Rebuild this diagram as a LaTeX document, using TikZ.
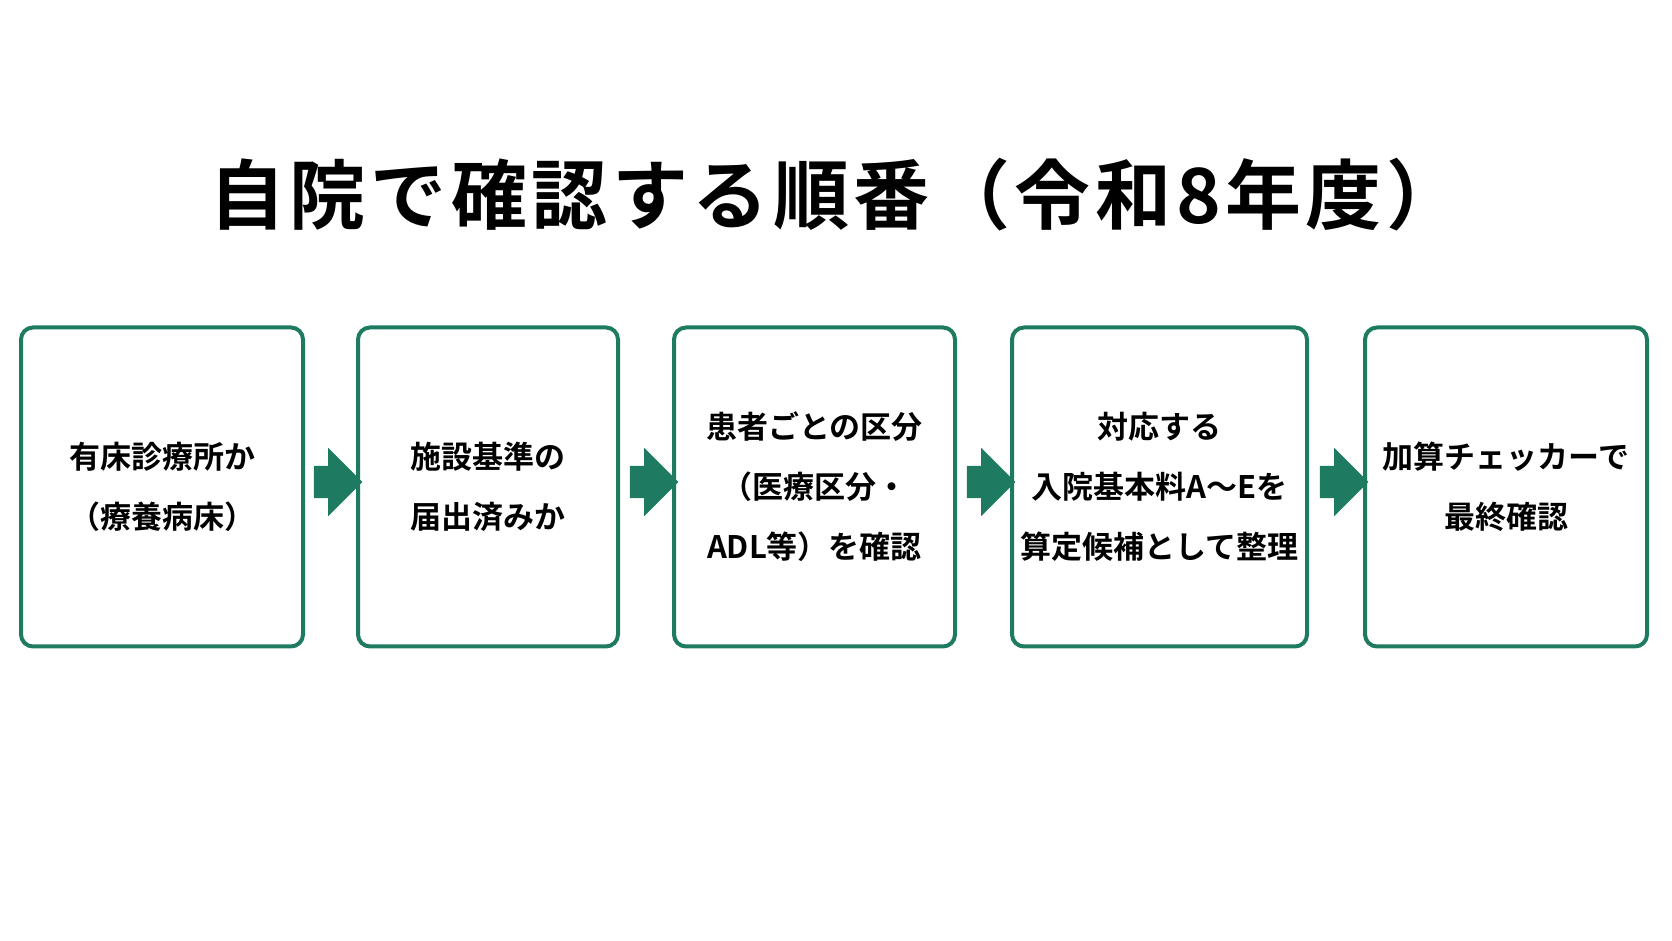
\documentclass[tikz,border=0pt]{standalone}
\usepackage{fontspec}
\setmainfont{Noto Sans CJK JP}[BoldFont={* Bold}]
\newfontfamily\titlefont{Noto Sans CJK JP Bold}[LetterSpace=6]
\usetikzlibrary{shapes.arrows}
\definecolor{stepgreen}{HTML}{1E7A60}
\tikzset{
    step/.style={draw=stepgreen, line width=4pt, rounded corners=12pt, fill=white,
        minimum width=#1, minimum height=319pt, align=center,
        font=\fontsize{31pt}{60pt}\selectfont\bfseries, inner sep=0pt},
    flow/.style={single arrow, fill=stepgreen, draw=none, minimum height=48pt,
        single arrow head extend=18pt, inner sep=16pt}
}
\begin{document}
\begin{tikzpicture}[x=1pt, y=1pt]
    \useasboundingbox (0,0) rectangle (1672,941);

    \node[font=\fontsize{76pt}{80pt}\titlefont] (title) at (836,746) {自院で確認する順番（令和8年度）};

    \node[step=282pt] (s1) at (162,454) {有床診療所か\\（療養病床）};
    \node[step=260pt] (s2) at (488,454) {施設基準の\\届出済みか};
    \node[step=281pt] (s3) at (814.5,454) {患者ごとの区分\\（医療区分・\\ADL等）を確認};
    \node[step=295pt] (s4) at (1159.5,454) {対応する\\入院基本料A〜Eを\\算定候補として整理};
    \node[step=282pt] (s5) at (1506,454) {加算チェッカーで\\最終確認};

    \node[flow] (a1) at (330,459) {};
    \node[flow] (a2) at (646,459) {};
    \node[flow] (a3) at (983,459) {};
    \node[flow] (a4) at (1336,459) {};

\end{tikzpicture}
\end{document}
